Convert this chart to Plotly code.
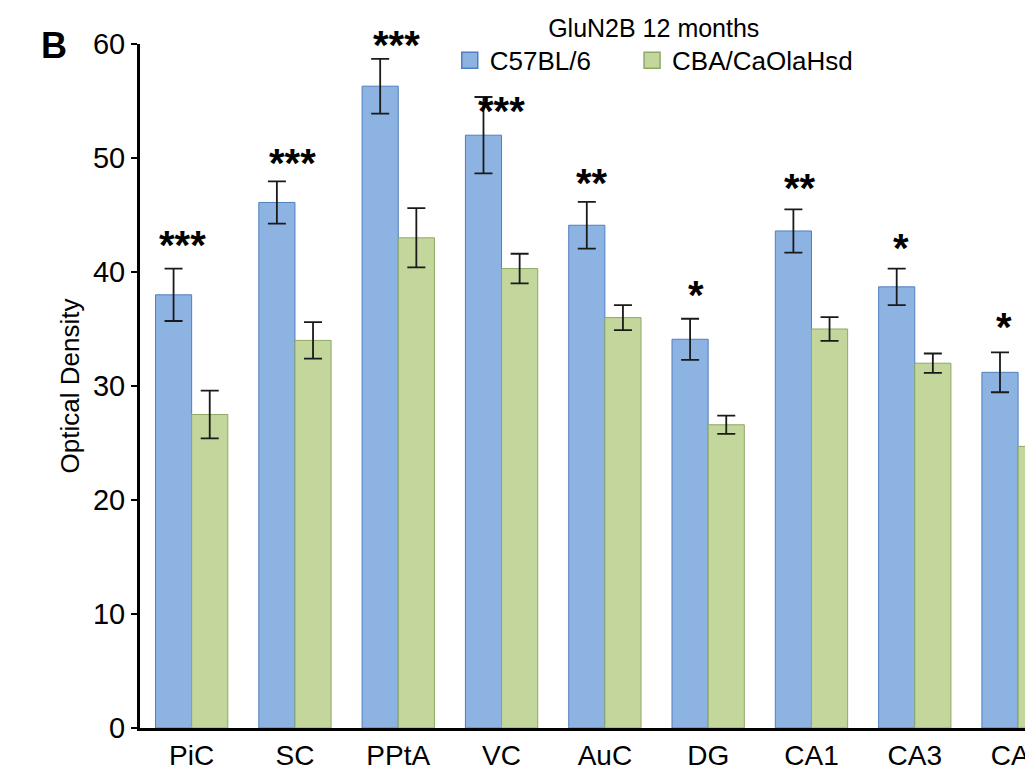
import plotly.graph_objects as go

categories = ["PiC", "SC", "PPtA", "VC", "AuC", "DG", "CA1", "CA3", "CA4"]
c57_values = [38.0, 46.1, 56.3, 52.0, 44.1, 34.1, 43.6, 38.7, 31.2]
c57_errors = [2.3, 1.85, 2.4, 3.35, 2.05, 1.8, 1.9, 1.6, 1.75]
cba_values = [27.5, 34.0, 43.0, 40.3, 36.0, 26.6, 35.0, 32.0, 24.7]
cba_errors = [2.1, 1.6, 2.6, 1.3, 1.1, 0.8, 1.05, 0.85, 1.2]
sig_labels = ["***", "***", "***", "***", "**", "*", "**", "*", "*"]
y_ticks = [0, 10, 20, 30, 40, 50, 60]

FONT = "Arial, Liberation Sans, Helvetica, sans-serif"
BLUE = "#8db3e2"
BLUE_EDGE = "#4f7fbf"
GREEN = "#c3d69b"
GREEN_EDGE = "#8fa866"
ERR = "#1a1a1a"
PAD = "\u00a0" * 5

fig = go.Figure()
fig.add_trace(go.Bar(
    x=categories, y=c57_values, name="C57BL/6", showlegend=False,
    marker=dict(color=BLUE, line=dict(color=BLUE_EDGE, width=1)),
    error_y=dict(type="data", array=c57_errors, color=ERR, thickness=1.8, width=9),
))
fig.add_trace(go.Bar(
    x=categories, y=cba_values, name="CBA/CaOlaHsd", showlegend=False,
    marker=dict(color=GREEN, line=dict(color=GREEN_EDGE, width=1)),
    error_y=dict(type="data", array=cba_errors, color=ERR, thickness=1.8, width=9),
))
# legend entries
fig.add_trace(go.Scatter(x=[None], y=[None], mode="markers", name="C57BL/6" + PAD,
                         marker=dict(symbol="square", size=16, color=BLUE,
                                     line=dict(color=BLUE_EDGE, width=1.5))))
fig.add_trace(go.Scatter(x=[None], y=[None], mode="markers", name="CBA/CaOlaHsd",
                         marker=dict(symbol="square", size=16, color=GREEN,
                                     line=dict(color=GREEN_EDGE, width=1.5))))

# significance asterisks
xshifts = [-9, -2, -2, 0, -13, -12, -11, -14, -14]
yshifts = [24, 18, 14, -14, 19, 24, 21, 21, 25]
for i, cat in enumerate(categories):
    fig.add_annotation(
        x=cat, y=c57_values[i] + c57_errors[i], xref="x", yref="y",
        text="<b>" + sig_labels[i] + "</b>", showarrow=False,
        xanchor="center", yanchor="middle",
        xshift=xshifts[i], yshift=yshifts[i],
        font=dict(family=FONT, size=40, color="black"),
    )

fig.add_annotation(
    x=-0.097, y=0.998, xref="paper", yref="paper", text="<b>B</b>",
    showarrow=False, xanchor="center", yanchor="middle",
    font=dict(family=FONT, size=36, color="black"),
)

fig.update_layout(
    width=1025, height=773,
    margin=dict(l=140, r=0, t=44, b=45),
    paper_bgcolor="white", plot_bgcolor="white",
    barmode="group", bargap=0.3, bargroupgap=0,
    font=dict(family=FONT, color="black"),
    showlegend=True,
    legend=dict(
        orientation="h", x=0.35, xanchor="left", y=1.058, yanchor="top",
        title=dict(text="GluN2B 12 months", side="top center",
                   font=dict(family=FONT, size=25, color="black")),
        font=dict(family=FONT, size=26, color="black"),
        bgcolor="rgba(0,0,0,0)", itemsizing="trace",
    ),
    xaxis=dict(
        range=[-0.5, 8.067], showline=True, linecolor="black", linewidth=3,
        ticks="", automargin=False,
        tickfont=dict(family=FONT, size=28, color="black"),
        showgrid=False, zeroline=False,
    ),
    yaxis=dict(
        range=[0, 60], tickvals=y_ticks, showline=True, linecolor="black",
        linewidth=3, ticks="outside", ticklen=6, tickwidth=2, tickcolor="black",
        tickfont=dict(family=FONT, size=29, color="black"),
        showgrid=False, zeroline=False, automargin=False,
        title=dict(text="Optical Density", standoff=6,
                   font=dict(family=FONT, size=26, color="black")),
    ),
)

fig.write_html("out.html")
